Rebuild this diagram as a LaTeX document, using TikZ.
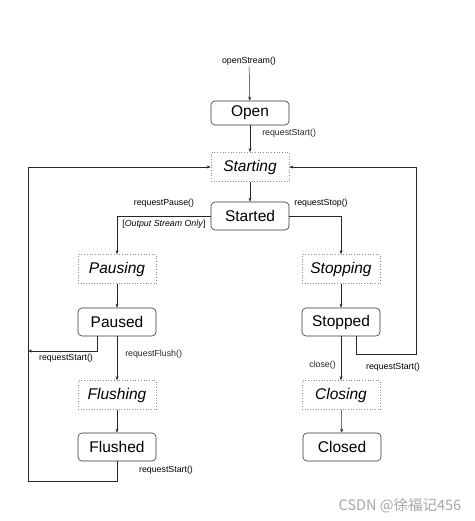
\documentclass[tikz,border=0pt]{standalone}
\usepackage{fontspec}
\setmainfont{Liberation Sans}
\newfontfamily\cjkfont{Noto Sans CJK SC}
\usetikzlibrary{arrows.meta}
\begin{document}
\begin{tikzpicture}[x=1pt,y=-1pt]
  \tikzset{
    state/.style={draw=black!80,line width=0.6pt,rounded corners=4pt,minimum width=78pt,minimum height=28pt,inner sep=0pt,font=\fontsize{15.5}{18}\selectfont},
    transient/.style={draw=black!45,dotted,line width=0.7pt,minimum width=78pt,minimum height=29pt,inner sep=0pt,font=\fontsize{15.5}{18}\selectfont\itshape},
    esstep/.style={-{Stealth[length=4pt,width=3pt]},line width=0.5pt,black!85},
    call/.style={font=\fontsize{8.8}{10}\selectfont,inner sep=1pt},
  }
  \useasboundingbox (0,0) rectangle (474,521);
  \node[call] (os) at (249,61) {openStream()};
  \node[state] (open) at (250,113) [minimum height=24pt] {Open};
  \node[transient] (starting) at (250,167) {Starting};
  \node[state] (started) at (250,216) {Started};
  \node[transient] (pausing) at (117,269) {Pausing};
  \node[transient] (stopping) at (341,269) {Stopping};
  \node[state] (paused) at (117,322) {Paused};
  \node[state] (stopped) at (341,322) {Stopped};
  \node[transient] (flushing) at (117,395) {Flushing};
  \node[transient] (closing) at (341,395) {Closing};
  \node[state] (flushed) at (117,447) {Flushed};
  \node[state] (closed) at (342,447) {Closed};
  \coordinate (lbot) at (28,481);
  \coordinate (pjoin) at (28,351);
  \coordinate (rbot) at (416,354);
  \draw[esstep] (os) -- (open);
  \draw[esstep] (open) -- node[call,pos=.3,anchor=west,xshift=11pt] {requestStart()} (starting);
  \draw[esstep] (starting) -- (started);
  \draw[esstep] (started.west) -| (pausing.north);
  \draw[esstep] (started.east) -| (stopping.north);
  \draw[esstep] (pausing) -- (paused);
  \draw[esstep] (stopping) -- (stopped);
  \draw[esstep] (paused) -- node[call,pos=.4,anchor=west,xshift=7pt] {requestFlush()} (flushing);
  \draw[esstep] (stopped) -- node[call,pos=.65,anchor=east,xshift=-4pt] {close()} (closing);
  \draw[esstep] (flushing) -- (flushed);
  \draw[esstep] (closing) -- (closed);
  \draw[esstep] ([xshift=-20pt]paused.south) |- (pjoin);
  \draw[esstep] (flushed.south) |- (lbot) |- (starting.west);
  \draw[esstep] ([xshift=15pt]stopped.south) |- (rbot) |- (starting.east);
  \node[call] (pause) at (164,203) {requestPause()};
  \node[call] (stop) at (321,203) {requestStop()};
  \node[call] (only) at (164,224) {[\textit{Output Stream Only}]};
  \node[call] (rs1) at (66,358) {requestStart()};
  \node[call] (rs2) at (393,367) {requestStart()};
  \node[call] (rs3) at (166,470) {requestStart()};
  \node[text=black!35,font=\cjkfont\fontsize{14.5}{16}\selectfont] (mark) at (400,506) {CSDN @徐福记456};
\end{tikzpicture}
\end{document}
